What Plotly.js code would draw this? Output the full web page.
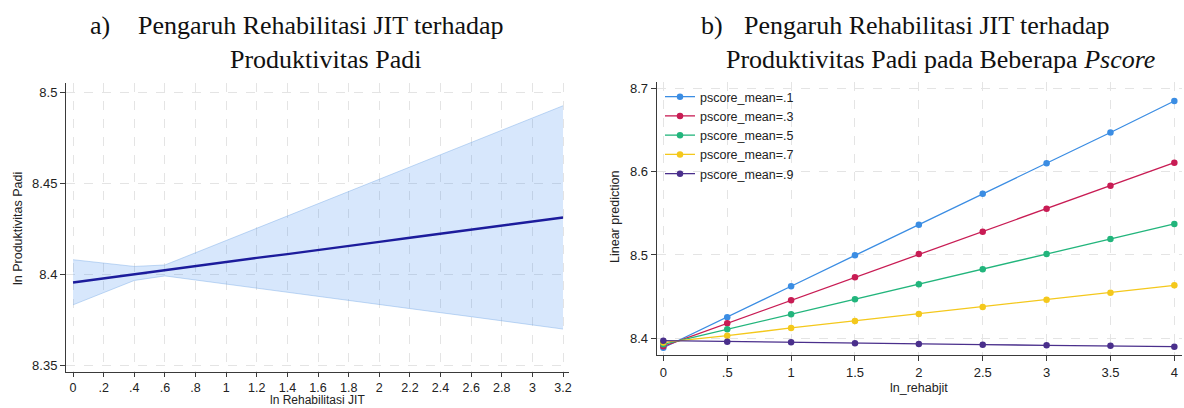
<!DOCTYPE html>
<html>
<head>
<meta charset="utf-8">
<script src="https://cdn.plot.ly/plotly-3.0.1.min.js"></script>
<style>
  html, body { margin: 0; padding: 0; background: #ffffff; }
  #chart { width: 1184px; height: 408px; }
</style>
</head>
<body>
<div id="chart"></div>
<script>
// ---------- Data: panel a ----------
const rehabX = [0, 0.2, 0.4, 0.6, 0.8, 1.0, 1.2, 1.4, 1.6, 1.8, 2.0, 2.2, 2.4, 2.6, 2.8, 3.0, 3.2];
const prodMean = [8.3954, 8.3977, 8.4000, 8.4020, 8.4043, 8.4066, 8.4089, 8.4110, 8.4131, 8.4154, 8.4177, 8.4200, 8.4222, 8.4244, 8.4266, 8.4288, 8.4311];
const prodUpper = [8.4079, 8.4060, 8.4042, 8.4050, 8.4117, 8.4185, 8.4252, 8.4319, 8.4386, 8.4454, 8.4521, 8.4588, 8.4656, 8.4723, 8.4790, 8.4858, 8.4925];
const prodLower = [8.3831, 8.3900, 8.3965, 8.3990, 8.3968, 8.3945, 8.3923, 8.3902, 8.3880, 8.3857, 8.3834, 8.3811, 8.3788, 8.3766, 8.3743, 8.3721, 8.3698];
const aTickVals = [0, 0.2, 0.4, 0.6, 0.8, 1, 1.2, 1.4, 1.6, 1.8, 2, 2.2, 2.4, 2.6, 2.8, 3, 3.2];
const aTickText = ["0", ".2", ".4", ".6", ".8", "1", "1.2", "1.4", "1.6", "1.8", "2", "2.2", "2.4", "2.6", "2.8", "3", "3.2"];
const aYTickVals = [8.35, 8.4, 8.45, 8.5];
const aYTickText = ["8.35", "8.4", "8.45", "8.5"];

// ---------- Data: panel b ----------
const lnRehabjit = [0, 0.5, 1, 1.5, 2, 2.5, 3, 3.5, 4];
const seriesNames = ["pscore_mean=.1", "pscore_mean=.3", "pscore_mean=.5", "pscore_mean=.7", "pscore_mean=.9"];
const pscore1 = [8.3887, 8.4253, 8.4625, 8.4996, 8.5364, 8.5736, 8.6100, 8.6470, 8.6848];
const pscore3 = [8.3904, 8.4180, 8.4456, 8.4732, 8.5012, 8.5280, 8.5556, 8.5832, 8.6108];
const pscore5 = [8.3928, 8.4108, 8.4288, 8.4468, 8.4648, 8.4828, 8.5012, 8.5192, 8.5372];
const pscore7 = [8.3950, 8.4031, 8.4124, 8.4208, 8.4292, 8.4376, 8.4464, 8.4548, 8.4636];
const pscore9 = [8.3971, 8.3960, 8.3952, 8.3940, 8.3932, 8.3924, 8.3916, 8.3912, 8.3900];
const bTickVals = [0, 0.5, 1, 1.5, 2, 2.5, 3, 3.5, 4];
const bTickText = ["0", ".5", "1", "1.5", "2", "2.5", "3", "3.5", "4"];
const bYTickVals = [8.4, 8.5, 8.6, 8.7];
const bYTickText = ["8.4", "8.5", "8.6", "8.7"];
const seriesColors = ["#3b8de3", "#c81c54", "#22b57c", "#f4c81c", "#4a2f8c"];

// ---------- helpers (pixel -> paper) ----------
const W = 1184, H = 408;
const px = x => x / W;
const py = y => 1 - y / H;

const traces = [];
// Panel a: confidence band
traces.push({
  x: rehabX, y: prodLower, xaxis: 'x', yaxis: 'y', type: 'scatter', mode: 'lines',
  line: {color: 'rgba(120,170,230,0.55)', width: 0.8}, showlegend: false, hoverinfo: 'skip'
});
traces.push({
  x: rehabX, y: prodUpper, xaxis: 'x', yaxis: 'y', type: 'scatter', mode: 'lines',
  fill: 'tonexty', fillcolor: 'rgba(40,130,240,0.19)',
  line: {color: 'rgba(120,170,230,0.55)', width: 0.8}, showlegend: false, hoverinfo: 'skip'
});
traces.push({
  x: rehabX, y: prodMean, xaxis: 'x', yaxis: 'y', type: 'scatter', mode: 'lines',
  line: {color: '#1c1c9c', width: 2.4}, showlegend: false
});

// Panel b
const bSeries = [pscore1, pscore3, pscore5, pscore7, pscore9];
bSeries.forEach((ys, i) => {
  traces.push({
    x: lnRehabjit, y: ys, xaxis: 'x2', yaxis: 'y2', type: 'scatter', mode: 'lines+markers',
    name: seriesNames[i],
    line: {color: seriesColors[i], width: 1.3},
    marker: {color: seriesColors[i], size: 6.5},
    showlegend: true
  });
});

const sansFont = 'Liberation Sans, Arial, sans-serif';
const axisCommon = {
  showline: true, linecolor: '#3a3a3a', linewidth: 1,
  ticks: 'outside', ticklen: 5, tickcolor: '#3a3a3a', tickwidth: 1,
  showgrid: true, gridcolor: '#e4e4e4', gridwidth: 1, griddash: 'dash',
  zeroline: false, automargin: false,
  tickfont: {family: sansFont, size: 13, color: '#222'},
  fixedrange: true
};

const titleFont = {family: 'Liberation Serif, Times New Roman, serif', size: 26, color: '#111'};
const axTitleFont = {family: sansFont, size: 12.5, color: '#222'};

const layout = {
  width: W, height: H,
  margin: {l: 0, r: 0, t: 0, b: 0},
  paper_bgcolor: '#ffffff', plot_bgcolor: '#ffffff',
  showlegend: true,
  legend: {
    x: px(660), y: py(82), xanchor: 'left', yanchor: 'top',
    bgcolor: 'rgba(0,0,0,0)', borderwidth: 0, traceorder: 'normal',
    font: {family: sansFont, size: 12.5, color: '#222'},
    tracegroupgap: 0
  },
  xaxis: Object.assign({}, axisCommon, {
    domain: [px(66), px(569)], range: [-0.046, 3.239], anchor: 'y',
    tickmode: 'array', tickvals: aTickVals, ticktext: aTickText,
    tickfont: {family: sansFont, size: 12.5, color: '#222'}, ticklen: 4
  }),
  yaxis: Object.assign({}, axisCommon, {
    domain: [py(372), py(83)], range: [8.3462, 8.505], anchor: 'x',
    tickmode: 'array', tickvals: aYTickVals, ticktext: aYTickText
  }),
  xaxis2: Object.assign({}, axisCommon, {
    domain: [px(656.7), px(1182)], range: [-0.052, 4.06], anchor: 'y2',
    tickmode: 'array', tickvals: bTickVals, ticktext: bTickText
  }),
  yaxis2: Object.assign({}, axisCommon, {
    domain: [py(355.3), py(82)], range: [8.3796, 8.7076], anchor: 'x2',
    tickmode: 'array', tickvals: bYTickVals, ticktext: bYTickText
  }),
  annotations: [
    // panel titles
    {text: 'a)', x: px(88), y: py(25), xref: 'paper', yref: 'paper', xanchor: 'left', yanchor: 'middle', showarrow: false, font: titleFont},
    {text: 'Pengaruh Rehabilitasi JIT terhadap', x: px(136), y: py(25), xref: 'paper', yref: 'paper', xanchor: 'left', yanchor: 'middle', showarrow: false, font: titleFont},
    {text: 'Produktivitas Padi', x: px(228), y: py(59), xref: 'paper', yref: 'paper', xanchor: 'left', yanchor: 'middle', showarrow: false, font: titleFont},
    {text: 'b)', x: px(699), y: py(25), xref: 'paper', yref: 'paper', xanchor: 'left', yanchor: 'middle', showarrow: false, font: titleFont},
    {text: 'Pengaruh Rehabilitasi JIT terhadap', x: px(742), y: py(25), xref: 'paper', yref: 'paper', xanchor: 'left', yanchor: 'middle', showarrow: false, font: titleFont},
    {text: 'Produktivitas Padi pada Beberapa <i>Pscore</i>', x: px(724), y: py(59), xref: 'paper', yref: 'paper', xanchor: 'left', yanchor: 'middle', showarrow: false, font: titleFont},
    // axis titles
    {text: 'ln Rehabilitasi JIT', x: px(317), y: py(408), xref: 'paper', yref: 'paper', xanchor: 'center', yanchor: 'bottom', showarrow: false, font: {family: sansFont, size: 12, color: '#222'}, borderpad: 0},
    {text: 'ln Produktivitas Padi', x: px(18), y: py(229), xref: 'paper', yref: 'paper', xanchor: 'center', yanchor: 'middle', textangle: -90, showarrow: false, font: axTitleFont},
    {text: 'ln_rehabjit', x: px(919), y: py(388), xref: 'paper', yref: 'paper', xanchor: 'center', yanchor: 'middle', showarrow: false, font: axTitleFont, borderpad: 0},
    {text: 'Linear prediction', x: px(615), y: py(217), xref: 'paper', yref: 'paper', xanchor: 'center', yanchor: 'middle', textangle: -90, showarrow: false, font: axTitleFont}
  ]
};

Plotly.newPlot('chart', traces, layout, {displayModeBar: false, staticPlot: true});
</script>
</body>
</html>
